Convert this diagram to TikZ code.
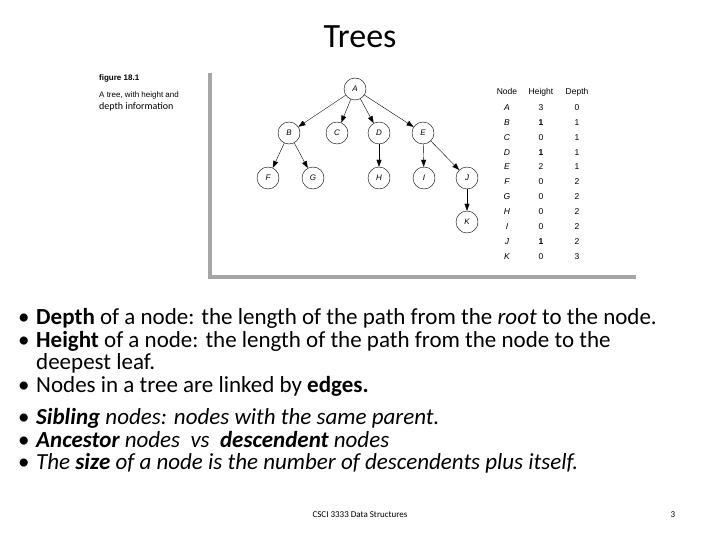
\documentclass[tikz,border=0pt]{standalone}
\usepackage{fontspec}
\setmainfont{Carlito}
\newfontfamily\figfont{Liberation Sans}
\usetikzlibrary{arrows.meta}
\begin{document}
\begin{tikzpicture}[
    x=1pt, y=-1pt,
    every node/.style={inner sep=0pt},
    treenode/.style={draw, circle, minimum size=22pt, font=\figfont\fontsize{8}{9}\selectfont\itshape},
    tree edge/.style={draw, -{Triangle[length=7pt,width=5pt]}, thin},
    cell/.style={text height=6pt, text depth=2pt, font=\figfont\fontsize{8.5}{9}\selectfont},
    bullet line/.style={anchor=base west, font=\fontsize{23}{26}\selectfont},
    frame/.style={draw=gray!70, line width=4pt},
    ]
\useasboundingbox (0,0) rectangle (720,540);
% title
\node (title) at (360,37) {\fontsize{34}{38}\selectfont Trees};
% figure caption
\node[anchor=west] (fig) at (99,78) {\figfont\bfseries\fontsize{8}{9}\selectfont figure 18.1};
\node[anchor=north west, align=left] (caption) at (99,92) {\figfont\fontsize{8}{9.5}\selectfont A tree, with height and\\depth information};
% frame
\draw[frame] (210,73) -- (210,277) -- (636,277);
% tree
\node[treenode] (A) at (355,89) {A};
\node[treenode] (B) at (289,133) {B};
\node[treenode] (C) at (337,133) {C};
\node[treenode] (D) at (379,133) {D};
\node[treenode] (E) at (423,133) {E};
\node[treenode] (F) at (268,178) {F};
\node[treenode] (G) at (313,178) {G};
\node[treenode] (H) at (379,178) {H};
\node[treenode] (I) at (424,178) {I};
\node[treenode] (J) at (467,178) {J};
\node[treenode] (K) at (467,222) {K};
\foreach \p/\c in {A/B,A/C,A/D,A/E,B/F,B/G,D/H,E/I,E/J,J/K}
  \draw[tree edge] (\p) -- (\c);
% table
\node[cell] (hnode) at (507,93) {Node};
\node[cell] (hheight) at (541,93) {Height};
\node[cell] (hdepth) at (577,93) {Depth};
\foreach \n/\h/\d [count=\i] in {A/3/0,B/\textbf{1}/1,C/0/1,D/\textbf{1}/1,E/2/1,F/0/2,G/0/2,H/0/2,I/0/2,J/\textbf{1}/2,K/0/3} {
  \node[cell] (n\i) at (507,93.5+14.9*\i) {\itshape\n};
  \node[cell] (h\i) at (541,93.5+14.9*\i) {\h};
  \node[cell] (d\i) at (577,93.5+14.9*\i) {\d};
}
% bullets
\foreach \y/\t in {
  324/{\textbf{Depth} of a node: the length of the path from the \textit{root} to the node.},
  347/{\textbf{Height} of a node: the length of the path from the node to the},
  392/{Nodes in a tree are linked by \textbf{edges.}},
  424/{\textit{\textbf{Sibling} nodes: nodes with the same parent.}},
  447/{\textit{\textbf{Ancestor} nodes\ \ vs\ \ \textbf{descendent} nodes}},
  469/{\textit{The \textbf{size} of a node is the number of descendents plus itself.}}} {
  \node[bullet line] at (18,\y) {\textbullet};
  \node[bullet line] at (36,\y) {\t};
}
\node[bullet line] (leaf) at (36,369) {deepest leaf.};
% footer
\node (footer) at (360,515) {\fontsize{9}{10}\selectfont CSCI 3333 Data Structures};
\node (page) at (673,515) {\fontsize{9}{10}\selectfont 3};
\end{tikzpicture}
\end{document}
